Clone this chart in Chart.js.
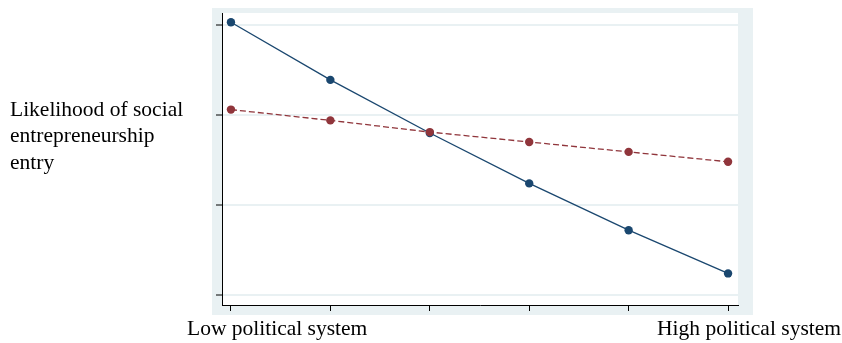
<!DOCTYPE html>
<html>
<head>
<meta charset="utf-8">
<script src="https://cdn.jsdelivr.net/npm/chart.js@4"></script>
<style>
  body { margin: 0; background: #fff; }
  #wrap { position: relative; width: 842px; height: 343px; }
  .lbl {
    position: absolute;
    font-family: "Liberation Serif", "Times New Roman", serif;
    font-size: 21.5px;
    line-height: 26.5px;
    color: #000;
    white-space: nowrap;
  }
</style>
</head>
<body>
<div id="wrap">
  <canvas id="chartDiv" width="842" height="343"></canvas>
  <div class="lbl" id="yTitle" style="left:10px; top:95.5px;"></div>
  <div class="lbl" id="xLow" style="left:187px; top:314.5px;"></div>
  <div class="lbl" id="xHigh" style="right:1px; top:314.5px;"></div>
</div>
<script>
// political system level (0 = low ... 5 = high)
var levels = [0, 1, 2, 3, 4, 5];
// likelihood values (arbitrary units, ticks at 0..3)
var solidVals = [3.03, 2.39, 1.80, 1.24, 0.72, 0.24];
var dashVals = [2.06, 1.94, 1.81, 1.70, 1.59, 1.48];
var yTicks = [0, 1, 2, 3];
var xTickLabels = ["Low political system", "High political system"];
var yTitleLines = ["Likelihood of social", "entrepreneurship", "entry"];

document.getElementById("yTitle").innerHTML = yTitleLines.join("<br>");
document.getElementById("xLow").textContent = xTickLabels[0];
document.getElementById("xHigh").textContent = xTickLabels[1];

const bgColor = "#e9f1f3";

// outer light region + white plot area
const plotBg = {
  id: "plotBg",
  beforeDraw(chart) {
    const ctx = chart.ctx;
    const a = chart.chartArea;
    ctx.save();
    ctx.fillStyle = bgColor;
    ctx.fillRect(a.left - 10, a.top - 5, a.right - a.left + 25, a.bottom - a.top + 15);
    ctx.fillStyle = "#fff";
    ctx.fillRect(a.left, a.top, a.right - a.left, a.bottom - a.top);
    ctx.restore();
  },
};

function pts(vals) {
  return vals.map((v, i) => ({ x: levels[i], y: v }));
}

var chart = new Chart(document.getElementById("chartDiv"), {
  type: "line",
  data: {
    datasets: [
      {
        label: "dashed",
        data: pts(dashVals),
        borderColor: "#90353b",
        backgroundColor: "#90353b",
        borderWidth: 1.3,
        borderDash: [6, 3],
        pointRadius: 4.2,
        pointBorderWidth: 0,
        tension: 0,
      },
      {
        label: "solid",
        data: pts(solidVals),
        borderColor: "#1a476f",
        backgroundColor: "#1a476f",
        borderWidth: 1.3,
        pointRadius: 4.2,
        pointBorderWidth: 0,
        tension: 0,
      },
    ],
  },
  options: {
    responsive: false,
    animation: false,
    events: [],
    layout: {
      autoPadding: false,
      padding: { left: 216, top: 13, right: 104, bottom: 32 },
    },
    plugins: {
      legend: { display: false },
      tooltip: { enabled: false },
    },
    scales: {
      x: {
        type: "linear",
        min: -0.09,
        max: 5.1,
        afterBuildTicks: (axis) => {
          axis.ticks = levels.map((v) => ({ value: v }));
        },
        afterFit: (axis) => {
          axis.height = 6;
        },
        ticks: { display: false },
        grid: {
          drawOnChartArea: false,
          drawTicks: true,
          tickLength: 6,
          tickColor: "#000",
          tickWidth: 1,
        },
        border: { display: true, color: "#000", width: 1 },
      },
      y: {
        type: "linear",
        min: -0.111,
        max: 3.133,
        afterBuildTicks: (axis) => {
          axis.ticks = yTicks.map((v) => ({ value: v }));
        },
        afterFit: (axis) => {
          axis.width = 6;
        },
        ticks: { display: false },
        grid: {
          color: bgColor,
          lineWidth: 2,
          drawTicks: true,
          tickLength: 6,
          tickColor: "#000",
          tickWidth: 1,
        },
        border: { display: true, color: "#000", width: 1 },
      },
    },
  },
  plugins: [plotBg],
});
</script>
</body>
</html>
